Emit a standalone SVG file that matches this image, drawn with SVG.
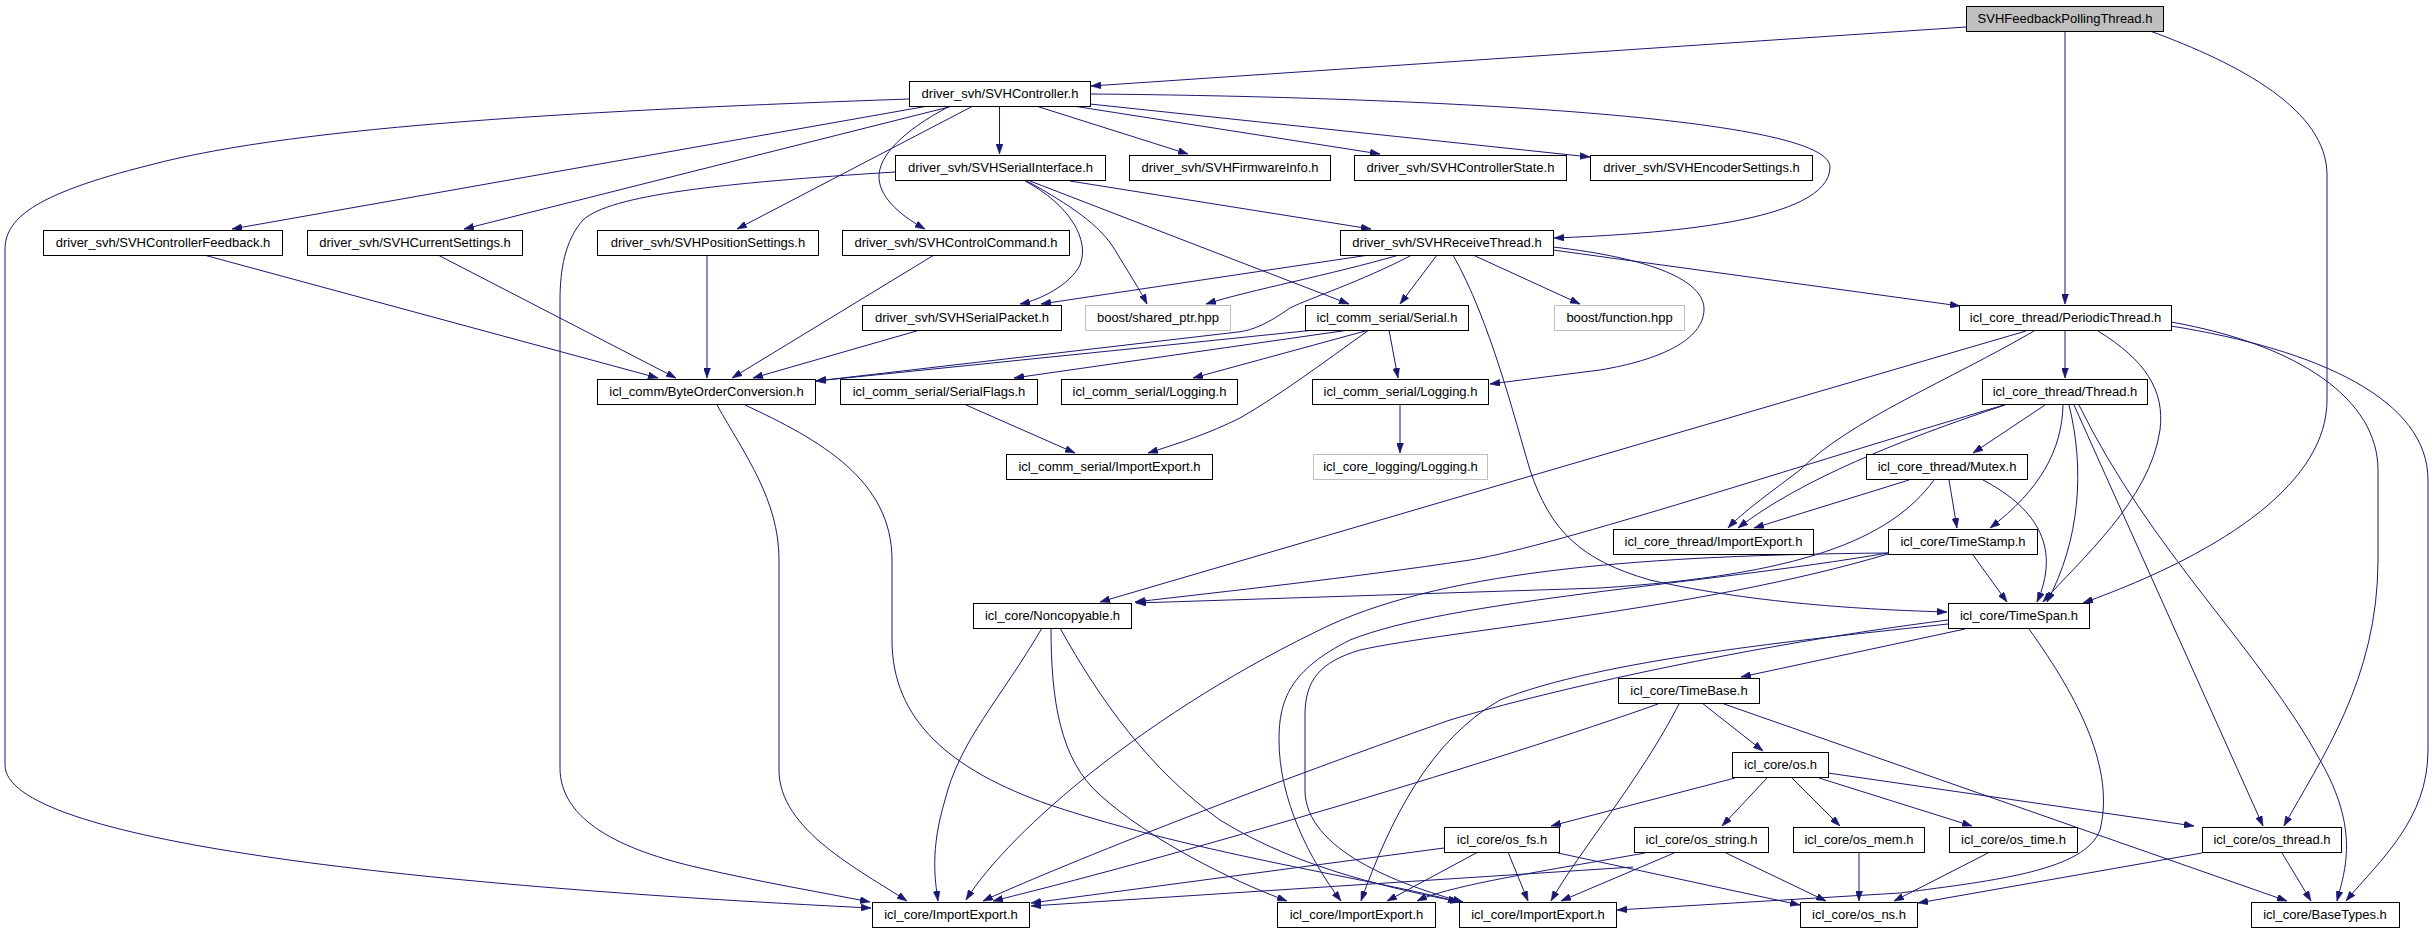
<svg xmlns="http://www.w3.org/2000/svg" width="2435" height="933" viewBox="0 0 2435 933">
<style>
.node rect{fill:#ffffff;stroke:#000000;stroke-width:1}
.node.root rect{fill:#bfbfbf}
.node.ext rect{stroke:#bfbfbf}
.node text{font-family:"Liberation Sans",Arial,Helvetica,sans-serif;font-size:13px;fill:#000000;text-anchor:middle}
#edges path{fill:none;stroke:#191970;stroke-width:1;marker-end:url(#arr)}
</style>
<defs>
<marker id="arr" markerUnits="userSpaceOnUse" markerWidth="10" markerHeight="7" refX="10" refY="3.5" orient="auto">
<path d="M0,0 L10,3.5 L0,7 z" fill="#191970" stroke="#191970" stroke-width="0.5"/>
</marker>
</defs>
<rect x="0" y="0" width="2435" height="933" fill="#ffffff"/>
<g id="edges">
<path d="M1966,27 L1091,86"/>
<path d="M2065,31 L2065,304"/>
<path d="M2150,31 C2240,64 2327,110 2327,175 L2327,400 C2327,480 2230,550 2083,603"/>
<path d="M909,99 C600,110 300,125 150,165 C30,195 5,220 5,250 L5,765 C5,840 400,885 871,908"/>
<path d="M928,106 L232,229"/>
<path d="M953,106 L464,229"/>
<path d="M973,106 L737,229"/>
<path d="M948,107 C905,130 878,155 879,178 C880,200 905,218 925,229"/>
<path d="M999.5,106 L999.5,154"/>
<path d="M1036,106 L1188,154"/>
<path d="M1073,106 L1380,154"/>
<path d="M1090,104 L1590,157"/>
<path d="M1090,94 C1350,96 1830,112 1830,167 C1830,222 1660,234 1554,238"/>
<path d="M895,172 C720,183 610,195 583,220 C565,240 560,270 560,300 L560,768 C560,820 620,850 700,868 C760,882 820,892 870,902"/>
<path d="M1025,181 C1070,205 1090,240 1080,265 C1070,285 1040,300 1020,304"/>
<path d="M1027,181 C1070,205 1100,225 1115,250 C1130,275 1140,290 1147,304"/>
<path d="M1030,181 L1349,304"/>
<path d="M1070,181 L1371,229"/>
<path d="M204,255 L658,378"/>
<path d="M438,255 L676,378"/>
<path d="M707,255 L707,378"/>
<path d="M934,255 L732,378"/>
<path d="M920,330 L753,378"/>
<path d="M1412,255 C1360,282 1310,298 1290,308 C1270,322 1255,330 1238,332 L816,381"/>
<path d="M1369,255 L1041,304"/>
<path d="M1399,255 C1330,275 1250,290 1206,304"/>
<path d="M1437,255 L1400,304"/>
<path d="M1453,255 C1490,320 1515,420 1530,470 C1550,530 1580,560 1650,580 C1760,605 1880,610 1947,612"/>
<path d="M1473,255 L1580,304"/>
<path d="M1553,247 C1650,258 1705,280 1704,310 C1703,340 1660,360 1600,370 L1490,384"/>
<path d="M1553,250 L1960,306"/>
<path d="M1315,330 L816,381"/>
<path d="M1349,330 L1014,378"/>
<path d="M1369,330 L1193,378"/>
<path d="M1369,330 C1320,365 1280,395 1240,418 C1210,433 1180,443 1148,453"/>
<path d="M1389,330 L1398,378"/>
<path d="M966,405 L1075,453"/>
<path d="M1400,405 L1400,453"/>
<path d="M717,405 C745,455 779,500 779,560 L779,770 C779,830 860,870 907,901"/>
<path d="M745,405 C820,440 892,480 892,560 L892,640 C892,720 950,770 1050,805 C1200,855 1380,880 1458,902"/>
<path d="M1042,628 C1000,700 960,740 945,800 C930,850 935,880 938,901"/>
<path d="M1051,628 C1051,700 1060,760 1100,795 C1150,840 1230,880 1287,901"/>
<path d="M1060,628 C1100,700 1150,770 1220,820 C1300,870 1400,890 1460,902"/>
<path d="M2026,331 L1100,602"/>
<path d="M2034,331 C1950,380 1850,420 1800,470 C1760,500 1740,515 1728,528"/>
<path d="M2065,330 L2065,378"/>
<path d="M2098,331 C2145,360 2165,390 2160,430 C2150,500 2080,560 2043,602"/>
<path d="M2171,322 C2300,345 2378,400 2378,470 L2378,560 C2378,680 2320,760 2284,826"/>
<path d="M2171,326 C2320,350 2428,400 2428,480 L2428,750 C2428,820 2380,860 2346,901"/>
<path d="M2045,405 L1973,453"/>
<path d="M2005,405 C1900,440 1800,480 1738,528"/>
<path d="M2004,405 C1800,465 1560,545 1470,560 C1350,578 1220,592 1135,602"/>
<path d="M2063,405 C2062,450 2040,490 1990,528"/>
<path d="M2069,405 C2085,470 2080,540 2047,602"/>
<path d="M2074,405 L2263,826"/>
<path d="M2079,405 C2150,550 2260,650 2320,760 C2360,830 2345,870 2337,901"/>
<path d="M1909,480 L1754,528"/>
<path d="M1934,480 C1890,540 1800,575 1600,588 L1136,603"/>
<path d="M1949,480 L1957,528"/>
<path d="M1983,480 C2040,510 2060,550 2037,602"/>
<path d="M1973,555 L2007,602"/>
<path d="M1888,553 C1650,555 1450,570 1330,625 C1150,710 1010,830 966,900"/>
<path d="M1888,553 C1700,585 1450,600 1350,640 C1290,670 1279,700 1279,740 C1279,800 1310,860 1341,901"/>
<path d="M1888,554 C1700,610 1450,630 1360,650 C1320,662 1305,680 1305,715 L1305,790 C1305,850 1400,885 1463,902"/>
<path d="M1965,629 L1741,677"/>
<path d="M1948,620 C1750,645 1550,690 1450,720 C1250,790 1050,870 983,901"/>
<path d="M1948,624 C1800,640 1600,660 1500,700 C1430,740 1390,820 1361,901"/>
<path d="M2029,629 C2080,700 2115,770 2100,830 C2085,870 2000,880 1900,893 L1617,910"/>
<path d="M1702,703 L1763,751"/>
<path d="M1658,704 C1500,760 1200,850 993,901"/>
<path d="M1679,704 C1640,780 1580,850 1551,901"/>
<path d="M1724,704 L2287,901"/>
<path d="M1735,778 L1551,826"/>
<path d="M1767,778 L1722,826"/>
<path d="M1792,778 L1840,826"/>
<path d="M1819,778 L1972,826"/>
<path d="M1828,773 L2194,826"/>
<path d="M1444,848 L1031,903"/>
<path d="M1478,852 L1387,901"/>
<path d="M1508,852 L1528,901"/>
<path d="M1558,853 L1800,905"/>
<path d="M1633,867 L1031,906"/>
<path d="M1645,853 C1550,870 1450,885 1417,901"/>
<path d="M1674,853 L1561,901"/>
<path d="M1726,853 L1826,901"/>
<path d="M1859,852 L1859,901"/>
<path d="M1988,853 L1894,901"/>
<path d="M2202,853 L1918,903"/>
<path d="M2282,853 L2311,901"/>
</g>
<g id="n0" class="node root"><rect x="1966.5" y="6.5" width="197" height="25"/><text x="2065" y="23">SVHFeedbackPollingThread.h</text></g>
<g id="n1" class="node"><rect x="909.5" y="81.5" width="181" height="25"/><text x="1000" y="98">driver_svh/SVHController.h</text></g>
<g id="n2" class="node"><rect x="895.5" y="155.5" width="210" height="25"/><text x="1000.5" y="172">driver_svh/SVHSerialInterface.h</text></g>
<g id="n3" class="node"><rect x="1129.5" y="155.5" width="201" height="25"/><text x="1230" y="172">driver_svh/SVHFirmwareInfo.h</text></g>
<g id="n4" class="node"><rect x="1354.5" y="155.5" width="212" height="25"/><text x="1460.5" y="172">driver_svh/SVHControllerState.h</text></g>
<g id="n5" class="node"><rect x="1590.5" y="155.5" width="222" height="25"/><text x="1701.5" y="172">driver_svh/SVHEncoderSettings.h</text></g>
<g id="n6" class="node"><rect x="43.5" y="230.5" width="239" height="25"/><text x="163" y="247">driver_svh/SVHControllerFeedback.h</text></g>
<g id="n7" class="node"><rect x="307.5" y="230.5" width="215" height="25"/><text x="415" y="247">driver_svh/SVHCurrentSettings.h</text></g>
<g id="n8" class="node"><rect x="597.5" y="230.5" width="221" height="25"/><text x="708" y="247">driver_svh/SVHPositionSettings.h</text></g>
<g id="n9" class="node"><rect x="842.5" y="230.5" width="227" height="25"/><text x="956" y="247">driver_svh/SVHControlCommand.h</text></g>
<g id="n10" class="node"><rect x="1340.5" y="230.5" width="213" height="25"/><text x="1447" y="247">driver_svh/SVHReceiveThread.h</text></g>
<g id="n11" class="node"><rect x="862.5" y="305.5" width="199" height="25"/><text x="962" y="322">driver_svh/SVHSerialPacket.h</text></g>
<g id="n12" class="node ext"><rect x="1085.5" y="305.5" width="145" height="25"/><text x="1158" y="322">boost/shared_ptr.hpp</text></g>
<g id="n13" class="node"><rect x="1305.5" y="305.5" width="163" height="25"/><text x="1387" y="322">icl_comm_serial/Serial.h</text></g>
<g id="n14" class="node ext"><rect x="1554.5" y="305.5" width="130" height="25"/><text x="1619.5" y="322">boost/function.hpp</text></g>
<g id="n15" class="node"><rect x="1959.5" y="305.5" width="212" height="25"/><text x="2065.5" y="322">icl_core_thread/PeriodicThread.h</text></g>
<g id="n16" class="node"><rect x="597.5" y="379.5" width="218" height="25"/><text x="706.5" y="396">icl_comm/ByteOrderConversion.h</text></g>
<g id="n17" class="node"><rect x="840.5" y="379.5" width="197" height="25"/><text x="939" y="396">icl_comm_serial/SerialFlags.h</text></g>
<g id="n18" class="node"><rect x="1061.5" y="379.5" width="176" height="25"/><text x="1149.5" y="396">icl_comm_serial/Logging.h</text></g>
<g id="n19" class="node"><rect x="1312.5" y="379.5" width="176" height="25"/><text x="1400.5" y="396">icl_comm_serial/Logging.h</text></g>
<g id="n20" class="node"><rect x="1982.5" y="379.5" width="165" height="25"/><text x="2065" y="396">icl_core_thread/Thread.h</text></g>
<g id="n21" class="node"><rect x="1006.5" y="454.5" width="206" height="25"/><text x="1109.5" y="471">icl_comm_serial/ImportExport.h</text></g>
<g id="n22" class="node ext"><rect x="1313.5" y="454.5" width="174" height="25"/><text x="1400.5" y="471">icl_core_logging/Logging.h</text></g>
<g id="n23" class="node"><rect x="1866.5" y="454.5" width="161" height="25"/><text x="1947" y="471">icl_core_thread/Mutex.h</text></g>
<g id="n24" class="node"><rect x="1613.5" y="529.5" width="200" height="25"/><text x="1713.5" y="546">icl_core_thread/ImportExport.h</text></g>
<g id="n25" class="node"><rect x="1888.5" y="529.5" width="149" height="25"/><text x="1963" y="546">icl_core/TimeStamp.h</text></g>
<g id="n26" class="node"><rect x="973.5" y="603.5" width="158" height="25"/><text x="1052.5" y="620">icl_core/Noncopyable.h</text></g>
<g id="n27" class="node"><rect x="1948.5" y="603.5" width="141" height="25"/><text x="2019" y="620">icl_core/TimeSpan.h</text></g>
<g id="n28" class="node"><rect x="1618.5" y="678.5" width="141" height="25"/><text x="1689" y="695">icl_core/TimeBase.h</text></g>
<g id="n29" class="node"><rect x="1732.5" y="752.5" width="96" height="25"/><text x="1780.5" y="769">icl_core/os.h</text></g>
<g id="n30" class="node"><rect x="1444.5" y="827.5" width="115" height="25"/><text x="1502" y="844">icl_core/os_fs.h</text></g>
<g id="n31" class="node"><rect x="1634.5" y="827.5" width="134" height="25"/><text x="1701.5" y="844">icl_core/os_string.h</text></g>
<g id="n32" class="node"><rect x="1793.5" y="827.5" width="131" height="25"/><text x="1859" y="844">icl_core/os_mem.h</text></g>
<g id="n33" class="node"><rect x="1949.5" y="827.5" width="128" height="25"/><text x="2013.5" y="844">icl_core/os_time.h</text></g>
<g id="n34" class="node"><rect x="2202.5" y="827.5" width="139" height="25"/><text x="2272" y="844">icl_core/os_thread.h</text></g>
<g id="n35" class="node"><rect x="872.5" y="902.5" width="157" height="25"/><text x="951" y="919">icl_core/ImportExport.h</text></g>
<g id="n36" class="node"><rect x="1277.5" y="902.5" width="158" height="25"/><text x="1356.5" y="919">icl_core/ImportExport.h</text></g>
<g id="n37" class="node"><rect x="1459.5" y="902.5" width="157" height="25"/><text x="1538" y="919">icl_core/ImportExport.h</text></g>
<g id="n38" class="node"><rect x="1800.5" y="902.5" width="117" height="25"/><text x="1859" y="919">icl_core/os_ns.h</text></g>
<g id="n39" class="node"><rect x="2251.5" y="902.5" width="148" height="25"/><text x="2325" y="919">icl_core/BaseTypes.h</text></g>
</svg>
